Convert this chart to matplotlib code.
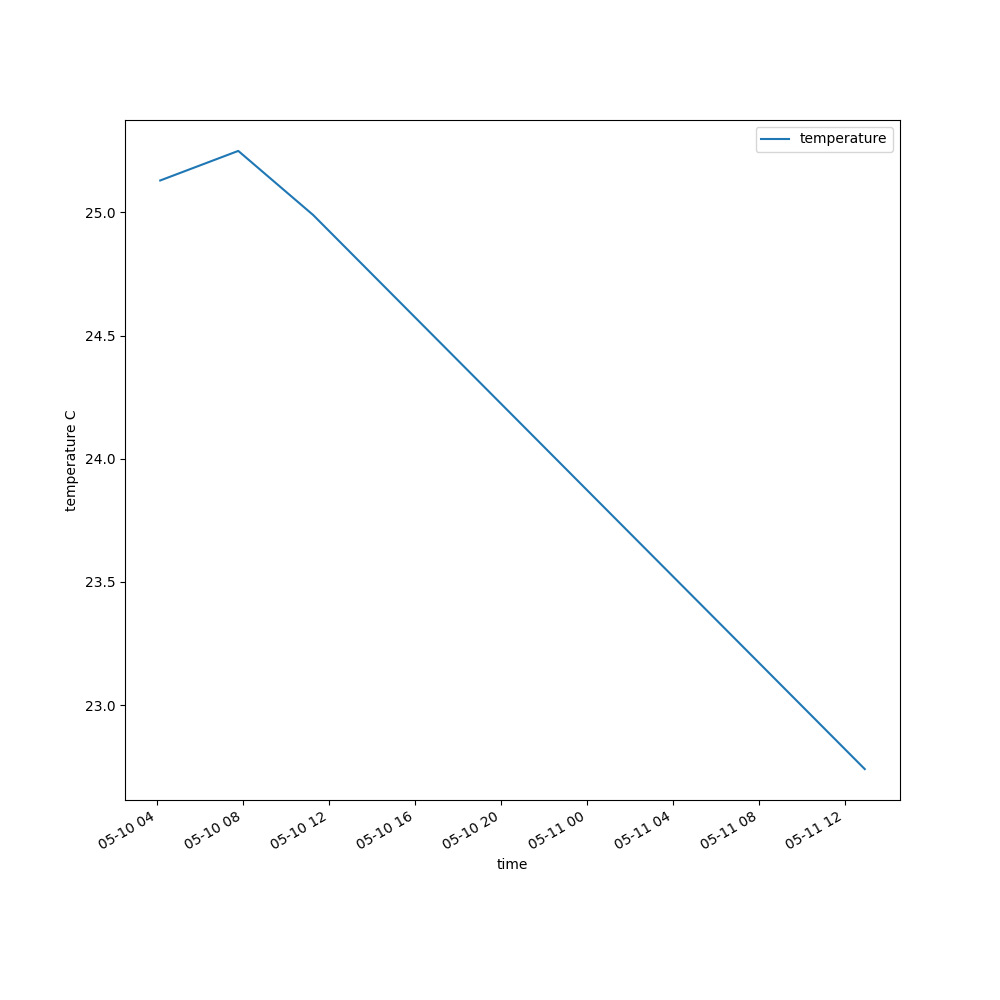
import numpy as np
import pandas as pd
import matplotlib
matplotlib.use('Agg')
import matplotlib.pyplot as plt

# readings taken off the chart
times = pd.to_datetime(['2023-05-10 04:08', '2023-05-10 07:46',
                        '2023-05-10 11:15', '2023-05-11 12:56'])
temperature = [25.13, 25.25, 24.99, 22.74]

fig, ax = plt.subplots(figsize=(10, 10), dpi=100)
ax.plot(times, temperature, label='temperature')
ax.set_xlabel('time')
ax.set_ylabel('temperature C')
ax.legend(loc='upper right')
fig.autofmt_xdate()

fig.savefig('out.png')
